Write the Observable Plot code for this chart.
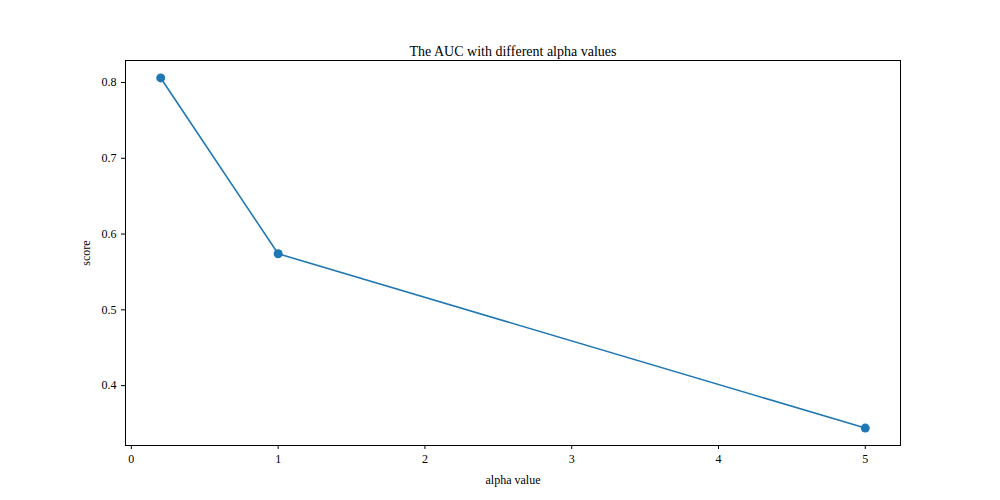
<!DOCTYPE html>
<html>
<head>
<meta charset="utf-8">
<script src="https://cdn.jsdelivr.net/npm/d3@7"></script>
<script src="https://cdn.jsdelivr.net/npm/@observablehq/plot@0.6"></script>
<style>
  body { margin: 0; background: #fff; }
</style>
</head>
<body>
<div id="chart"></div>
<script>
// values
const alphas = [0.2, 1, 5];
const scores = [0.806, 0.574, 0.344];
const xTicks = [0, 1, 2, 3, 4, 5];
const yTicks = [0.4, 0.5, 0.6, 0.7, 0.8];

const data = alphas.map((a, i) => ({alpha: a, score: scores[i]}));
const blue = "#1f77b4";

const chart = Plot.plot({
  width: 1000,
  height: 500,
  marginLeft: 125,
  marginRight: 100,
  marginTop: 60,
  marginBottom: 55,
  style: {fontFamily: "Liberation Serif", fontSize: "12px", background: "white", color: "black"},
  x: {domain: [-0.04, 5.24]},
  y: {domain: [0.321, 0.829]},
  marks: [
    Plot.frame({stroke: "black"}),
    Plot.axisX({ticks: xTicks, tickSize: 4, tickFormat: d3.format("d"), label: "alpha value", labelAnchor: "center", labelArrow: false, labelOffset: 38, fontSize: 12}),
    Plot.axisY({ticks: yTicks, tickSize: 4, tickFormat: d3.format(".1f"), label: "score", labelAnchor: "center", labelArrow: false, labelOffset: 44, fontSize: 12}),
    Plot.line(data, {x: "alpha", y: "score", stroke: blue, strokeWidth: 1.6}),
    Plot.dot(data, {x: "alpha", y: "score", fill: blue, r: 4.5}),
    Plot.text(["The AUC with different alpha values"], {frameAnchor: "top", dy: -14, fontSize: 14, fill: "black"})
  ]
});

d3.select("#chart").append(() => chart);
</script>
</body>
</html>
